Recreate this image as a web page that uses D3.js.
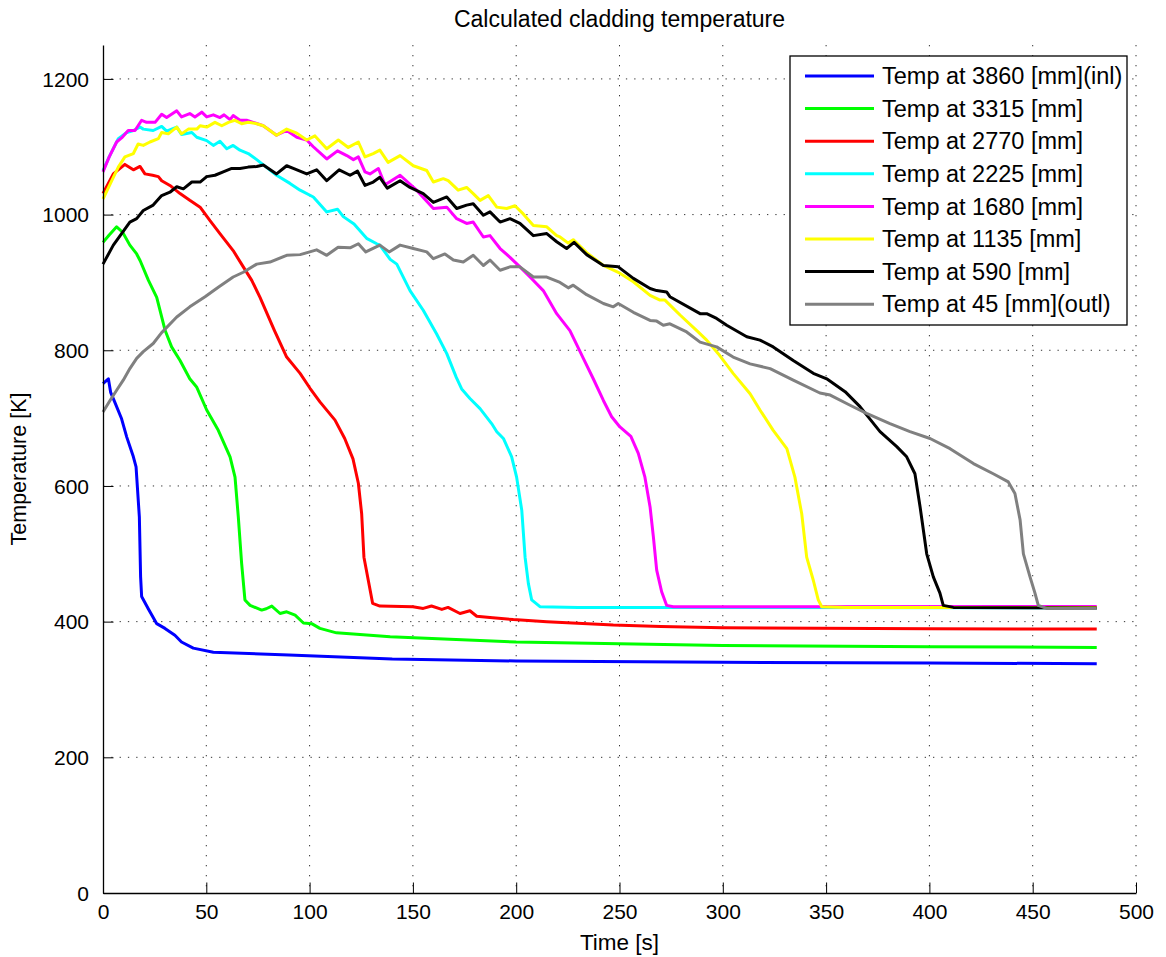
<!DOCTYPE html>
<html>
<head>
<meta charset="utf-8">
<script src="https://cdn.jsdelivr.net/npm/d3@7"></script>
<style>
  html, body { margin: 0; padding: 0; background: #fff; }
  svg { display: block; font-family: "Liberation Sans", Arial, Helvetica, sans-serif; }
</style>
</head>
<body>
<svg id="chart" width="1166" height="957"></svg>
<script>
// Cladding temperature histories, [time s, temperature K]
const temp3860 = [[0,751],[2.6,758],[3.7,738],[5.5,725],[9,699],[11.5,672],[14.7,643],[16,628],[17.6,554],[18.2,466],[18.7,437],[21.9,419],[26,397],[30,390],[34.8,380],[38,370],[43.7,361],[53.4,355],[90,351],[140,345],[200,342],[300,340],[400,339],[481,338]];
const temp3315 = [[0,959],[3,970],[6.6,982],[9.5,974],[13,955],[16.3,942],[18,932],[22,903],[26,878],[30,830],[33.2,805],[37.3,785],[42,758],[45.3,746],[50.2,712],[55.8,682],[61.5,643],[63.9,613],[65.5,554],[67.1,486],[68.7,432],[71.2,424],[76.8,417],[79,419],[81.7,423],[85.7,412],[88.9,414.5],[93,409.5],[97,398],[101,397],[105,390],[113,383.5],[139,377.6],[200,370],[300,365],[400,363],[481,362]];
const temp2770 = [[0,1031],[5,1060],[10.6,1074],[14.7,1066],[17.9,1071],[20.3,1060],[24,1058],[26.8,1056],[28.4,1050],[32.4,1043],[37.3,1031],[42,1021],[47,1011],[51.8,991],[56.6,972],[63,947],[67.9,923],[72,903],[76,878],[83,829],[88.9,790],[95.4,766],[100.2,744],[105,724],[112.3,697],[117,670],[121,640],[123.6,604],[125.2,559],[126.3,495],[128.4,461],[130.5,427],[134,423],[150,422],[155,419.5],[159,423],[164,418],[167,421],[172.8,412],[177.6,416],[180.9,408],[187.3,406],[198.6,403],[214.8,400],[247,395],[270,393],[300,391],[400,389.5],[481,389]];
const temp2225 = [[0,1065],[3,1085],[7.4,1112],[11.5,1121],[14.7,1124],[17.9,1129],[19.5,1126],[24.3,1124],[28.4,1130],[30.8,1123],[35.7,1129],[38,1118],[43,1121],[45.4,1114],[50.2,1109],[53.4,1102],[56.6,1108],[59.9,1097],[63,1102],[66.3,1095],[70.3,1090],[74.4,1081],[79,1070],[84,1058],[90.5,1046],[95.4,1036],[101.8,1026],[108.3,1004],[113.5,1008],[116.3,997],[121.5,986],[127.6,965],[132.5,957],[134,955],[139,934],[142.2,927],[148.6,888],[155,859],[161.5,824],[166.4,795],[171,760],[173.6,743],[177.6,729],[182.5,714],[188.1,692],[190.6,680],[193.8,670],[197.8,643],[200.2,613],[202.7,564],[204.3,495],[205.9,456],[207.5,432],[211.5,422],[230,421],[481,420.5]];
const temp1680 = [[0,1063],[3,1085],[6.6,1107],[9,1113],[12.2,1124],[15.5,1124],[18.7,1139],[21.1,1136],[25.2,1136],[28.4,1148],[30.8,1143],[35.7,1153],[38,1144],[42,1149],[44.5,1144],[47.8,1151],[50.2,1144],[53.4,1147],[56.6,1143],[58.6,1147],[61.5,1140],[63,1146],[66.3,1139],[69.5,1139],[72.7,1136],[77.6,1131],[84,1117],[88.9,1124],[93.8,1114],[98.6,1110],[101.8,1100],[108.3,1082],[113.5,1094],[118,1087],[121.2,1081],[123.6,1085],[126.8,1063],[129.2,1060],[133.3,1068],[136.5,1044],[143.8,1058],[151.8,1036],[159.9,1009],[166.4,1011],[171.2,994],[176,987],[179.2,989],[184.1,967],[187.3,969],[192.2,950],[197,937],[201.8,923],[206.7,908],[213.1,888],[219.6,854],[226,829],[232.5,788],[237.3,758],[242.2,726],[246.2,702],[250.2,687],[255.5,673],[259.1,648],[262.3,613],[264.8,569],[266.4,525],[268,476],[270.4,444],[272.8,424],[276,422],[481,422.5]];
const temp1135 = [[0,1023],[5,1055],[7.4,1070],[10.6,1085],[14.7,1090],[17,1104],[19.5,1102],[22.7,1107],[26.8,1112],[28.4,1121],[31.6,1119],[35.7,1129],[38,1119],[41.3,1126],[45.4,1126],[47,1131],[50.2,1129],[54.2,1136],[57.5,1131],[60.7,1136],[63.9,1139],[67.1,1134],[70.3,1136],[74.4,1134],[77.6,1131],[84,1117],[88.9,1126],[93.8,1120],[98.6,1110],[102.6,1116],[108.3,1097],[113.9,1110],[118.7,1099],[123.6,1107],[126.8,1085],[130.8,1090],[134,1095],[138,1077],[143.8,1087],[150.2,1072],[156.7,1065],[159.9,1048],[164.7,1053],[167.1,1050],[171.9,1036],[176,1040],[179.2,1031],[182.5,1021],[186.5,1028],[190.6,1011],[195.4,1009],[199.4,1013],[203.4,1001],[208.3,984],[214.8,982],[219.6,969],[221.2,967],[225.2,958],[227.6,963],[234.1,944],[242.2,925],[249.4,915],[256.7,901],[264.8,881],[269.6,874],[272,874],[279.3,852],[287.4,829],[292.2,815],[297.8,795],[305,766],[313.2,736],[318,712],[324.4,682],[331,655],[334.9,613],[338.2,559],[340.6,495],[343.8,461],[346.2,432],[347.9,422],[360,421],[481,421]];
const temp590 = [[0,927],[5,955],[9,972],[13,989],[16.3,994],[19.5,1006],[24.3,1014],[28.4,1028],[32.4,1033],[35.7,1041],[38.9,1038],[43,1048],[47,1048],[50.2,1056],[54.2,1058],[58.2,1063],[62.3,1068],[66.3,1068],[70.3,1070],[74.4,1071],[77.6,1073],[84,1060],[88.9,1072],[92.1,1068],[98.6,1060],[103.4,1066],[108.3,1050],[114.3,1066],[119.6,1058],[123.2,1064],[126.8,1043],[130.8,1048],[134,1055],[137.6,1039],[143.8,1050],[148.6,1040],[155,1031],[159.9,1018],[166.4,1026],[171.2,1009],[176,1014],[179.2,1016],[184.1,999],[187.3,1004],[192.2,989],[197,994],[201.8,987],[208.3,969],[214.8,972],[219.6,960],[224.4,950],[228,959],[234.1,941],[242.2,925],[249.4,923],[256.7,906],[264.8,891],[268,888],[272.8,886],[274.4,879],[289,854],[292.2,854],[297,847],[301.9,837],[311.6,820],[318,815],[324.4,805],[334.1,785],[343.8,766],[350.3,758],[359.2,739],[366.4,717],[376.1,680],[384.2,658],[389,643],[393,618],[395.5,569],[398.7,500],[401.9,466],[405.1,442],[406.7,424],[411.6,421],[481,420]];
const temp45 = [[0,709],[3.4,726],[6.6,741],[9.8,756],[13,773],[16.3,788],[19.5,798],[24.3,810],[28.4,826],[35.7,849],[42,864],[49.4,879],[55.8,893],[63,908],[67.9,915],[74.4,927],[80.8,930],[88.9,940],[95.4,941],[103.4,948],[108.3,940],[113.8,952],[119.6,951],[123.6,957],[127.2,945],[134,955],[138.5,945],[143.8,955],[150.2,950],[156.7,945],[159.9,935],[165.5,942],[169.6,933],[174.4,930],[179.2,940],[184.1,925],[187.3,933],[192.2,918],[197,923],[201.8,923],[208.3,908],[214.8,908],[221.2,900],[225.2,892],[227.6,896],[234.1,882],[242.2,869],[247,864],[249.4,869],[256.7,856],[264.8,844],[268,843],[271.2,837],[274.4,839],[282.5,827],[289,812],[297,805],[305,790],[313.2,780],[322.9,773],[334.1,756],[347,737],[352,734],[361.6,719],[369.6,707],[380.9,692],[390.6,680],[400.3,670],[410,655],[421.3,633],[430.9,618],[438.2,606],[441.4,589],[443.9,550],[445.5,500],[448.7,466],[451.1,442],[452.7,424],[456.7,419.5],[481,419.5]];

const seriesData = [temp3860, temp3315, temp2770, temp2225, temp1680, temp1135, temp590, temp45];
const seriesLabels = ["Temp at 3860 [mm](inl)", "Temp at 3315 [mm]", "Temp at 2770 [mm]", "Temp at 2225 [mm]",
                      "Temp at 1680 [mm]", "Temp at 1135 [mm]", "Temp at 590 [mm]", "Temp at 45 [mm](outl)"];
const seriesColors = ["#0000ff", "#00ff00", "#ff0000", "#00ffff", "#ff00ff", "#ffff00", "#000000", "#808080"];

const xTicks = [0, 50, 100, 150, 200, 250, 300, 350, 400, 450, 500];
const yTicks = [0, 200, 400, 600, 800, 1000, 1200];

const titleText = "Calculated cladding temperature";
const xLabel = "Time [s]";
const yLabel = "Temperature [K]";

// Layout
const margin = { left: 103, top: 45, right: 30, bottom: 64 };
const W = 1166, H = 957;
const pw = W - margin.left - margin.right;   // 1033
const ph = H - margin.top - margin.bottom;   // 848

const svg = d3.select("#chart");
const g = svg.append("g").attr("transform", `translate(${margin.left},${margin.top})`);

const x = d3.scaleLinear().domain([0, 500]).range([0, pw]);
const y = d3.scaleLinear().domain([0, 1250]).range([ph, 0]);

// Dotted grid
const grid = g.append("g").attr("class", "grid");
grid.selectAll("line.vg").data(xTicks.filter(d => d > 0)).join("line")
  .attr("x1", d => x(d)).attr("x2", d => x(d))
  .attr("y1", 0).attr("y2", ph)
  .attr("stroke", "#333").attr("stroke-width", 1)
  .attr("stroke-dasharray", "1.3,8.7");
grid.selectAll("line.hg").data(yTicks.filter(d => d > 0)).join("line")
  .attr("x1", 0).attr("x2", pw)
  .attr("y1", d => y(d)).attr("y2", d => y(d))
  .attr("stroke", "#333").attr("stroke-width", 1)
  .attr("stroke-dasharray", "1.3,7");

// Curves
const line = d3.line().x(d => x(d[0])).y(d => y(d[1]));
g.append("g").selectAll("path").data(seriesData).join("path")
  .attr("d", line)
  .attr("fill", "none")
  .attr("stroke", (d, i) => seriesColors[i])
  .attr("stroke-width", 3)
  .attr("stroke-linejoin", "round")
  .attr("stroke-linecap", "butt");

// Axes (ticks pointing inward)
const xAxis = d3.axisBottom(x).tickValues(xTicks).tickFormat(d3.format("d"))
  .tickSizeInner(-10.5).tickSizeOuter(0).tickPadding(9);
const yAxis = d3.axisLeft(y).tickValues(yTicks).tickFormat(d3.format("d"))
  .tickSizeInner(-10.5).tickSizeOuter(0).tickPadding(14);

const gx = g.append("g").attr("transform", `translate(0,${ph})`).call(xAxis);
const gy = g.append("g").call(yAxis);
[gx, gy].forEach(a => {
  a.select(".domain").attr("stroke", "#000").attr("stroke-width", 1.3);
  a.selectAll(".tick line").attr("stroke", "#000").attr("stroke-width", 1);
  a.selectAll(".tick text").attr("fill", "#000").style("font-size", "21px")
    .style("font-family", "'Liberation Sans', Arial, sans-serif");
});
gx.selectAll(".tick text").attr("dy", "0.8em");
gy.selectAll(".tick text").attr("dy", "0.35em");

// Titles
svg.append("text").attr("x", margin.left + pw / 2).attr("y", 27)
  .attr("text-anchor", "middle").style("font-size", "23px").text(titleText);
svg.append("text").attr("x", margin.left + pw / 2).attr("y", 950)
  .attr("text-anchor", "middle").style("font-size", "22.5px").text(xLabel);
svg.append("text").attr("transform", `translate(26,${margin.top + ph / 2}) rotate(-90)`)
  .attr("text-anchor", "middle").style("font-size", "21.5px").text(yLabel);

// Legend
const lg = svg.append("g").attr("transform", "translate(790,56)");
lg.append("rect").attr("x", 0).attr("y", 0).attr("width", 337).attr("height", 269)
  .attr("fill", "#fff").attr("stroke", "#000").attr("stroke-width", 1.3);
const rows = lg.selectAll("g.row").data(seriesLabels).join("g")
  .attr("transform", (d, i) => `translate(0,${20 + i * 32.6})`);
rows.append("line").attr("x1", 15).attr("x2", 84).attr("y1", 0).attr("y2", 0)
  .attr("stroke", (d, i) => seriesColors[i]).attr("stroke-width", 3);
rows.append("text").attr("x", 92).attr("y", 0).attr("dy", "0.35em")
  .style("font-size", "23.5px").text(d => d);
</script>
</body>
</html>
